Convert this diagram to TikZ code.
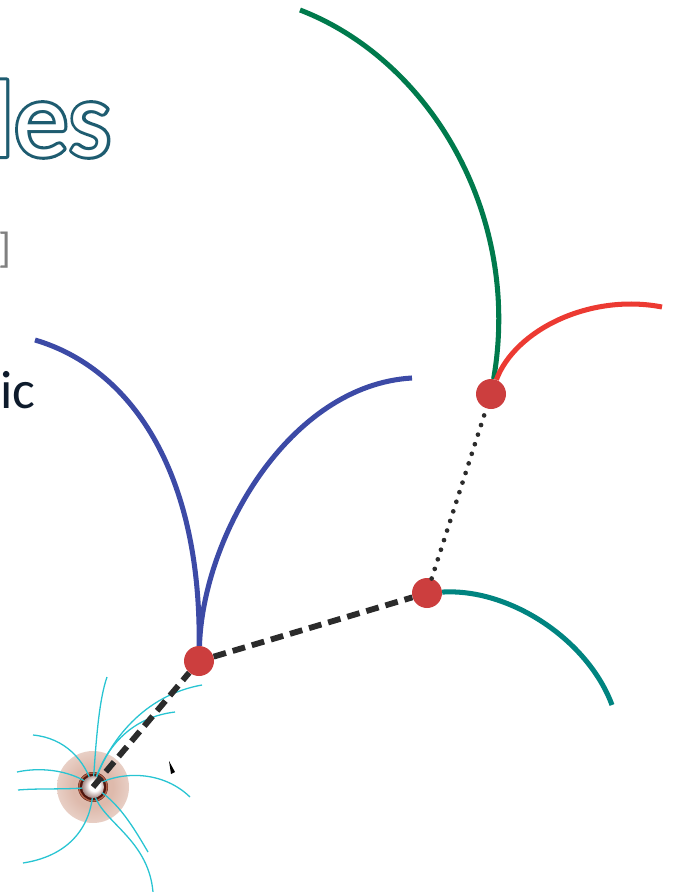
\documentclass[tikz,border=0pt]{standalone}
\usepackage{fontspec}
\setmainfont{Carlito}
\usepackage{xcolor}
\usepackage{tikz}
\usetikzlibrary{positioning}

\definecolor{titleedge}{RGB}{30,92,112}
\definecolor{inktext}{RGB}{14,27,44}
\definecolor{bracketgray}{RGB}{128,128,128}
\definecolor{branchblue}{RGB}{60,74,166}
\definecolor{branchgreen}{RGB}{0,122,76}
\definecolor{branchred}{RGB}{236,58,50}
\definecolor{branchteal}{RGB}{0,132,128}
\definecolor{vertexred}{RGB}{204,62,62}
\definecolor{linkgray}{RGB}{43,43,43}
\definecolor{fieldcyan}{RGB}{40,196,210}
\definecolor{glowpink}{RGB}{222,186,172}
\definecolor{holebrown}{RGB}{80,22,14}
\definecolor{holerim}{RGB}{176,96,72}

% outlined lettering: a wide stroke under a white fill
\newcommand{\hollow}[1]{%
    \rlap{\special{pdf:literal direct 1 Tr 5.2 w 1 j 0.118 0.361 0.439 RG}#1\special{pdf:literal direct 0 Tr}}%
    {\color{white}#1}}

% soft halo and bright core of the source
\pgfdeclareradialshading{halo}{\pgfpoint{0bp}{0bp}}{color(0bp)=(glowpink); color(14bp)=(glowpink); color(50bp)=(white)}
\pgfdeclareradialshading{core}{\pgfpoint{4bp}{4bp}}{color(0bp)=(white); color(12bp)=(white); color(40bp)=(holebrown); color(50bp)=(holebrown)}

\begin{document}
\begin{tikzpicture}[x=0.03cm, y=-0.03cm,
    vertex/.style={circle, fill=vertexred, inner sep=0pt, minimum size=0.9cm},
    branch/.style={line width=4.3pt},
    field/.style={draw=fieldcyan, line width=1.1pt},
    link/.style={draw=linkgray, line width=5pt, dash pattern=on 11pt off 6pt},
    hop/.style={draw=linkgray, line width=4pt, line cap=round, dash pattern=on 0pt off 8.6pt}]
    \useasboundingbox (0,0) rectangle (673,892);

    % slide text cut at the left edge
    \node[anchor=base west, inner sep=0pt] (title) at (-11,156)
        {\fontsize{93}{98}\selectfont\hollow{les}};
    \node[anchor=base east, inner sep=0pt, text=bracketgray] (bracket) at (12,262)
        {\fontsize{36}{40}\selectfont ]};
    \node[anchor=base east, inner sep=0pt, text=inktext] (word) at (36,408)
        {\fontsize{46}{50}\selectfont ic};

    % vertices
    \coordinate (bh) at (93,787);
    \node[vertex] (v1) at (199,661) {};
    \node[vertex] (v2) at (427,593) {};
    \node[vertex] (v3) at (491,394) {};

    % free ends of the branches
    \coordinate (blueleft) at (35,340);
    \coordinate (blueright) at (412,378);
    \coordinate (greenend) at (300,10);
    \coordinate (redend) at (662,307);
    \coordinate (tealend) at (612,705);

    \draw[branch, branchblue] (blueleft) .. controls (130,368) and (201,470) .. (v1);
    \draw[branch, branchblue] (v1) .. controls (203,535) and (290,385) .. (blueright);
    \draw[branch, branchgreen] (greenend) .. controls (430,60) and (522,215) .. (v3);
    \draw[branch, branchred] (v3) .. controls (515,330) and (590,293) .. (redend);
    \draw[branch, branchteal] (v2) .. controls (510,588) and (588,640) .. (tealend);

    % source with its field lines
    \shade[shading=halo] (bh) circle (36);
    \fill[holebrown] (bh) circle (15);
    \draw[holerim, line width=1.2pt] (bh) circle (14);
    \coordinate (f1) at (107,677);
    \coordinate (f2) at (202,685);
    \coordinate (f3) at (175,712);
    \coordinate (f4) at (33,735);
    \coordinate (f5) at (17,772);
    \coordinate (f6) at (18,790);
    \coordinate (f7) at (190,797);
    \coordinate (f8) at (148,852);
    \coordinate (f9) at (153,892);
    \coordinate (f10) at (23,863);
    \draw[field] (bh) .. controls (96,740) and (99,700) .. (f1);
    \draw[field] (bh) .. controls (108,740) and (145,695) .. (f2);
    \draw[field] (bh) .. controls (102,755) and (125,718) .. (f3);
    \draw[field] (bh) .. controls (85,760) and (65,738) .. (f4);
    \draw[field] (bh) .. controls (80,775) and (50,765) .. (f5);
    \draw[field] (bh) .. controls (70,790) and (40,788) .. (f6);
    \draw[field] (bh) .. controls (115,772) and (160,768) .. (f7);
    \draw[field] (bh) .. controls (118,800) and (135,830) .. (f8);
    \draw[field] (bh) .. controls (95,820) and (148,835) .. (f9);
    \draw[field] (bh) .. controls (93,820) and (75,855) .. (f10);
    \shade[shading=core] (bh) circle (11);

    % links between vertices
    \draw[link] (bh) -- (v1);
    \draw[link] (v1) -- (v2);
    \draw[hop] (v2) -- (v3);

    \fill[black] (169,761) -- (175,772) -- (171,774) -- cycle;
\end{tikzpicture}
\end{document}
